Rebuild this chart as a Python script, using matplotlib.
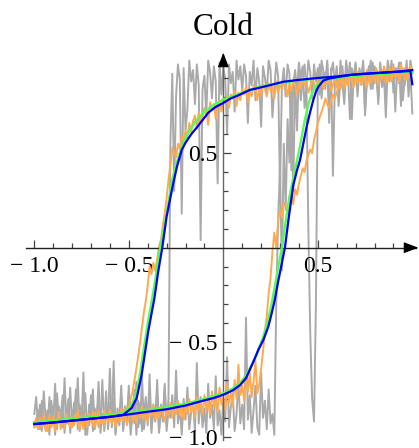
import numpy as np
import matplotlib
matplotlib.use("Agg")
import matplotlib.pyplot as plt

plt.rcParams["font.family"] = ["Liberation Serif", "DejaVu Serif"]

# Field sweep grid shared by the two noisy traces (step 0.01)
sweep_up = np.linspace(-1.0, 1.0, 201)
sweep_down = sweep_up[::-1]

# Gray trace, sweep up (-1 -> 1)
gray_up = [
    -0.88, -0.79, -0.95, -0.83, -0.97, -0.76, -0.91, -0.86, -0.99, -0.81,
    -0.93, -0.72, -0.96, -0.84, -0.90, -0.78, -0.98, -0.87, -0.93, -0.74,
    -0.95, -0.82, -0.89, -0.69, -0.97, -0.85, -0.92, -0.77, -0.99, -0.83,
    -0.90, -0.75, -0.96, -0.88, -0.81, -0.94, -0.70, -0.97, -0.86, -0.92,
    -0.64, -0.95, -0.80, -0.98, -0.85, -0.91, -0.73, -0.96, -0.84, -0.89,
    -0.77, -0.99, -0.87, -0.93, -0.71, -0.95, -0.82, -0.97, -0.88, -0.79,
    -0.94, -0.67, -0.96, -0.85, -0.91, -0.76, -0.98, -0.83, -0.92, -0.72,
    -0.97, -0.86, -0.90, -0.78, -0.95, -0.65, -0.93, -0.84, -0.99, -0.80,
    -0.91, -0.74, -0.96, -0.87, -0.82, -0.97, -0.61, -0.93, -0.79, -0.95,
    -0.85, -0.98, -0.72, -0.90, -0.83, -0.96, -0.68, -0.94, -0.86, -0.99,
    -0.80, -0.92, -0.58, -0.95, -0.84, -0.77, -0.97, -0.88, -0.70, -0.93,
    -0.83, -0.96, -0.37, -0.91, -0.78, -0.98, -0.86, -0.73, -0.95, -0.99,
    -0.66, -0.90, -0.81, -0.96, -0.75, -0.93, -0.88, -0.99, -0.30, 0.15,
    0.42, -0.12, 0.55, 0.20, 0.68, 0.45, 0.84, 0.30, 0.90, 0.62,
    0.95, 0.78, 0.88, 0.97, 0.83, 0.10, -0.45, -0.80, -0.92, -0.30,
    0.85, 0.97, 0.79, 0.93, 0.88, 0.99, 0.74, 0.95, 0.38, 0.86,
    0.96, 0.81, 0.99, 0.87, 0.76, 0.94, 0.89, 0.98, 0.68, 0.92,
    0.97, 0.83, 0.95, 0.90, 0.99, 0.72, 0.88, 0.96, 0.84, 0.98,
    0.87, 0.93, 0.79, 0.97, 0.85, 0.91, 0.69, 0.96, 0.88, 0.99,
    0.82, 0.95, 0.90, 0.98, 0.75, 0.94, 0.86, 0.99, 0.80, 0.93,
    0.71,
]
# Gray trace, sweep down (1 -> -1)
gray_down = [
    0.93, 0.99, 0.85, 0.96, 0.90, 0.78, 0.98, 0.87, 0.95, 0.72,
    0.97, 0.89, 0.93, 0.99, 0.81, 0.95, 0.86, 0.98, 0.76, 0.92,
    0.96, 0.84, 0.99, 0.90, 0.94, 0.70, 0.97, 0.88, 0.93, 0.80,
    0.98, 0.87, 0.95, 0.68, 0.91, 0.99, 0.83, 0.96, 0.89, 0.75,
    0.94, 0.86, 0.98, 0.92, 0.66, 0.97, 0.84, 0.93, 0.99, 0.81,
    0.95, 0.88, 0.97, 0.79, 0.93, 0.99, 0.85, 0.74, 0.96, 0.90,
    0.98, 0.83, 0.94, 0.87, 0.41, 0.92, 0.97, 0.80, 0.95, 0.86,
    0.30, 0.91, 0.98, 0.84, 0.69, 0.94, 0.99, 0.82, 0.90, 0.96,
    0.64, 0.88, 0.95, 0.78, 0.99, 0.86, 0.93, 0.66, 0.91, 0.97,
    0.83, 0.96, 0.89, 0.99, 0.72, 0.93, 0.87, 0.97, 0.60, 0.90,
    0.95, 0.81, 0.98, 0.34, 0.88, 0.96, 0.79, 0.93, 0.99, 0.70,
    0.91, 0.84, 0.04, 0.86, 0.97, 0.76, 0.94, 0.88, 0.99, 0.73,
    0.62, 0.95, 0.18, 0.89, 0.97, 0.80, 0.30, 0.92, 0.55, -0.80,
    -0.94, -0.74, -0.90, -0.85, -0.97, -0.70, -0.92, -0.83, -0.98, -0.77,
    -0.91, -0.86, -0.96, -0.68, -0.93, -0.81, -0.99, -0.75, -0.89, -0.95,
    -0.73, -0.92, -0.84, -0.97, -0.79, -0.94, -0.87, -0.99, -0.60, -0.90,
    -0.82, -0.96, -0.76, -0.93, -0.88, -0.98, -0.71, -0.91, -0.85, -0.97,
    -0.78, -0.94, -0.89, -0.99, -0.66, -0.92, -0.83, -0.96, -0.75, -0.90,
    -0.86, -0.98, -0.80, -0.93, -0.69, -0.95, -0.87, -0.91, -0.77, -0.99,
    -0.84, -0.92, -0.79, -0.97, -0.88, -0.94, -0.81, -0.96, -0.86, -0.93,
    -0.95,
]

# Orange trace, sweep up (-1 -> 1)
orange_up = [
    -0.94, -0.90, -0.96, -0.91, -0.95, -0.88, -0.93, -0.97, -0.90, -0.94,
    -0.89, -0.95, -0.92, -0.87, -0.96, -0.91, -0.94, -0.88, -0.93, -0.90,
    -0.95, -0.89, -0.92, -0.86, -0.94, -0.91, -0.96, -0.88, -0.93, -0.89,
    -0.92, -0.87, -0.95, -0.90, -0.86, -0.93, -0.89, -0.94, -0.88, -0.91,
    -0.86, -0.93, -0.89, -0.95, -0.87, -0.91, -0.85, -0.92, -0.88, -0.94,
    -0.90, -0.85, -0.92, -0.88, -0.93, -0.86, -0.90, -0.84, -0.91, -0.87,
    -0.92, -0.85, -0.89, -0.83, -0.91, -0.87, -0.90, -0.84, -0.88, -0.92,
    -0.85, -0.89, -0.82, -0.90, -0.86, -0.88, -0.81, -0.89, -0.85, -0.91,
    -0.84, -0.88, -0.80, -0.87, -0.83, -0.90, -0.79, -0.86, -0.82, -0.88,
    -0.78, -0.86, -0.81, -0.88, -0.76, -0.84, -0.80, -0.87, -0.74, -0.83,
    -0.79, -0.86, -0.72, -0.82, -0.77, -0.84, -0.70, -0.80, -0.62, -0.78,
    -0.73, -0.81, -0.69, -0.76, -0.66, -0.79, -0.71, -0.60, -0.77, -0.72,
    -0.64, -0.55, -0.44, -0.36, -0.24, -0.16, -0.02, 0.08, 0.00, 0.14,
    0.20, 0.16, 0.24, 0.22, 0.18, 0.26, 0.29, 0.23, 0.31, 0.28,
    0.34, 0.38, 0.42, 0.40, 0.46, 0.49, 0.52, 0.50, 0.57, 0.61,
    0.66, 0.69, 0.72, 0.75, 0.79, 0.76, 0.74, 0.78, 0.81, 0.79,
    0.82, 0.86, 0.84, 0.88, 0.86, 0.90, 0.87, 0.92, 0.88, 0.91,
    0.89, 0.93, 0.90, 0.87, 0.92, 0.89, 0.94, 0.90, 0.88, 0.93,
    0.91, 0.95, 0.89, 0.93, 0.90, 0.96, 0.91, 0.88, 0.94, 0.92,
    0.96, 0.90, 0.94, 0.91, 0.97, 0.92, 0.95, 0.89, 0.94, 0.96,
    0.93,
]
# Orange trace, sweep down (1 -> -1)
orange_down = [
    0.92, 0.96, 0.90, 0.94, 0.89, 0.95, 0.91, 0.88, 0.94, 0.90,
    0.93, 0.88, 0.95, 0.90, 0.87, 0.92, 0.89, 0.94, 0.86, 0.91,
    0.88, 0.93, 0.87, 0.90, 0.85, 0.92, 0.88, 0.86, 0.91, 0.87,
    0.90, 0.85, 0.89, 0.92, 0.86, 0.88, 0.84, 0.91, 0.87, 0.89,
    0.85, 0.90, 0.86, 0.83, 0.89, 0.87, 0.91, 0.84, 0.88, 0.86,
    0.89, 0.83, 0.87, 0.90, 0.85, 0.82, 0.88, 0.86, 0.90, 0.84,
    0.87, 0.81, 0.86, 0.89, 0.83, 0.87, 0.80, 0.85, 0.88, 0.84,
    0.86, 0.82, 0.88, 0.79, 0.85, 0.83, 0.87, 0.80, 0.84, 0.86,
    0.81, 0.85, 0.78, 0.84, 0.86, 0.80, 0.83, 0.77, 0.85, 0.81,
    0.84, 0.78, 0.82, 0.75, 0.83, 0.79, 0.81, 0.74, 0.80, 0.77,
    0.79, 0.72, 0.78, 0.75, 0.68, 0.76, 0.73, 0.77, 0.65, 0.72,
    0.74, 0.69, 0.66, 0.72, 0.63, 0.70, 0.67, 0.61, 0.66, 0.58,
    0.62, 0.56, 0.59, 0.52, 0.55, 0.48, 0.50, 0.53, 0.44, 0.36,
    0.26, 0.18, 0.12, 0.04, 0.01, -0.06, -0.12, -0.08, -0.14, -0.10,
    -0.20, -0.28, -0.34, -0.42, -0.50, -0.57, -0.64, -0.70, -0.76, -0.80,
    -0.84, -0.87, -0.85, -0.90, -0.88, -0.92, -0.87, -0.91, -0.89, -0.93,
    -0.88, -0.92, -0.90, -0.86, -0.93, -0.89, -0.95, -0.90, -0.87, -0.94,
    -0.91, -0.88, -0.95, -0.90, -0.93, -0.89, -0.96, -0.91, -0.88, -0.94,
    -0.90, -0.95, -0.92, -0.89, -0.96, -0.91, -0.94, -0.88, -0.93, -0.97,
    -0.91, -0.95, -0.89, -0.94, -0.97, -0.92, -0.95, -0.90, -0.96, -0.93,
    -0.95,
]

# Green trace
green_up_x = [-1.0, -0.8, -0.6, -0.4, -0.2, -0.1, 0.0, 0.05, 0.09, 0.12, 0.15,
              0.18, 0.21, 0.235, 0.255, 0.275, 0.295, 0.31, 0.33, 0.35, 0.37,
              0.39, 0.41, 0.43, 0.45, 0.47, 0.49, 0.52, 0.56, 0.65, 0.8, 1.0]
green_up_y = [-0.925, -0.905, -0.885, -0.86, -0.825, -0.80, -0.77, -0.745,
              -0.715, -0.675, -0.62, -0.555, -0.475, -0.39, -0.30, -0.19,
              -0.08, 0.0, 0.14, 0.27, 0.37, 0.46, 0.56, 0.67, 0.76, 0.82,
              0.855, 0.88, 0.893, 0.905, 0.918, 0.932]
green_down_x = [1.0, 0.8, 0.6, 0.4, 0.2, 0.1, 0.0, -0.05, -0.1, -0.15, -0.19,
                -0.215, -0.235, -0.26, -0.275, -0.29, -0.31, -0.33, -0.345,
                -0.36, -0.38, -0.40, -0.42, -0.44, -0.46, -0.49, -0.53, -0.6,
                -0.8, -1.0]
green_down_y = [0.93, 0.918, 0.905, 0.885, 0.855, 0.82, 0.785, 0.755, 0.72,
                0.665, 0.60, 0.545, 0.49, 0.40, 0.34, 0.24, 0.13, 0.02, -0.06,
                -0.17, -0.29, -0.40, -0.53, -0.66, -0.77, -0.84, -0.875,
                -0.888, -0.908, -0.925]

# Blue trace
blue_up_x = [-1.0, -0.9, -0.8, -0.7, -0.6, -0.5, -0.4, -0.3, -0.2, -0.12,
             -0.05, 0.0, 0.05, 0.09, 0.12, 0.14, 0.165, 0.185, 0.212, 0.238,
             0.256, 0.272, 0.29, 0.31, 0.326, 0.345, 0.37, 0.39, 0.406, 0.425,
             0.441, 0.46, 0.476, 0.49, 0.503, 0.529, 0.56, 0.6, 0.67, 0.75,
             0.85, 0.93, 1.0]
blue_up_y = [-0.933, -0.925, -0.915, -0.905, -0.895, -0.882, -0.868, -0.855,
             -0.835, -0.813, -0.795, -0.778, -0.755, -0.726, -0.69, -0.647,
             -0.59, -0.541, -0.488, -0.418, -0.347, -0.277, -0.18, -0.08, 0.0,
             0.15, 0.33, 0.41, 0.464, 0.56, 0.64, 0.72, 0.781, 0.825, 0.852,
             0.884, 0.895, 0.902, 0.914, 0.92, 0.926, 0.932, 0.94]
blue_down_x = [1.0, 0.99, 0.9, 0.8, 0.7, 0.6, 0.5, 0.4, 0.317, 0.247, 0.177,
               0.141, 0.088, 0.04, 0.0, -0.04, -0.079, -0.11, -0.141, -0.17,
               -0.20, -0.22, -0.245, -0.265, -0.285, -0.30, -0.323, -0.345,
               -0.365, -0.38, -0.397, -0.415, -0.432, -0.458, -0.485, -0.529,
               -0.6, -0.7, -0.8, -0.9, -1.0]
blue_down_y = [0.865, 0.935, 0.93, 0.924, 0.917, 0.906, 0.898, 0.888, 0.878,
               0.86, 0.843, 0.835, 0.81, 0.79, 0.766, 0.745, 0.715, 0.675,
               0.635, 0.60, 0.555, 0.517, 0.43, 0.34, 0.24, 0.164, 0.0, -0.13,
               -0.27, -0.35, -0.442, -0.56, -0.672, -0.795, -0.848, -0.884,
               -0.895, -0.905, -0.915, -0.925, -0.933]

x_major = [-1.0, -0.5, 0.5]
x_major_labels = ["\u2212 1.0", "\u2212 0.5", "0.5"]
y_major = [-1.0, -0.5, 0.5]
y_major_labels = ["\u2212 1.0", "\u2212 0.5", "0.5"]
minor_ticks = [-0.9, -0.8, -0.7, -0.6, -0.4, -0.3, -0.2, -0.1,
               0.1, 0.2, 0.3, 0.4, 0.6, 0.7, 0.8, 0.9]

fig = plt.figure(figsize=(4.19, 4.48), dpi=100)
ax = fig.add_axes([0, 0, 1, 1])
ax.set_xlim(-1.1815, 1.0354)
ax.set_ylim(-1.0598, 1.3106)

ax.plot(sweep_up, gray_up, color="#aaaaaa", lw=1.4, zorder=1)
ax.plot(sweep_down, gray_down, color="#aaaaaa", lw=1.4, zorder=1)
ax.plot(sweep_up, orange_up, color="#ffa950", lw=1.4, zorder=2)
ax.plot(sweep_down, orange_down, color="#ffa950", lw=1.4, zorder=2)
ax.plot(green_up_x, green_up_y, color="#50ff50", lw=1.7, zorder=3)
ax.plot(green_down_x, green_down_y, color="#50ff50", lw=1.7, zorder=3)
ax.plot(blue_up_x, blue_up_y, color="#0000ff", lw=1.6, zorder=4)
ax.plot(blue_down_x, blue_down_y, color="#0000ff", lw=1.6, zorder=4)

# Axes through the origin with arrow heads
for side in ("top", "right"):
    ax.spines[side].set_visible(False)
ax.spines["left"].set_position(("data", 0))
ax.spines["bottom"].set_position(("data", 0))
ax.spines["bottom"].set_bounds(-1.045, 1.02)
ax.spines["left"].set_bounds(-1.02, 1.02)
ax.spines["bottom"].set_color("#222222")
ax.spines["left"].set_color("#666666")
ax.spines["bottom"].set_linewidth(1.0)
ax.spines["left"].set_linewidth(1.0)

arrow_style = dict(arrowstyle="-|>,head_length=0.45,head_width=0.17",
                   color="black", lw=0.8, shrinkA=0, shrinkB=0,
                   mutation_scale=20)
ax.annotate("", xy=(1.032, 0), xytext=(0.98, 0), arrowprops=arrow_style,
            annotation_clip=False)
ax.annotate("", xy=(0, 1.032), xytext=(0, 0.98), arrowprops=arrow_style,
            annotation_clip=False)

ax.set_xticks(x_major)
ax.set_xticklabels(x_major_labels)
ax.set_yticks(y_major)
ax.set_yticklabels(y_major_labels)
ax.set_xticks(minor_ticks, minor=True)
ax.set_yticks(minor_ticks, minor=True)
ax.tick_params(which="both", direction="in", width=0.9, colors="#444444",
               labelcolor="black", labelsize=17)
ax.tick_params(which="major", length=6)
ax.tick_params(which="minor", length=3.5)
ax.tick_params(axis="x", which="major", pad=6)
ax.tick_params(axis="y", which="major", pad=4)
ax.patch.set_alpha(0)

ax.text(0, 1.125, "Cold", ha="center", va="baseline", fontsize=22.5)

fig.savefig("out.png", dpi=100)
